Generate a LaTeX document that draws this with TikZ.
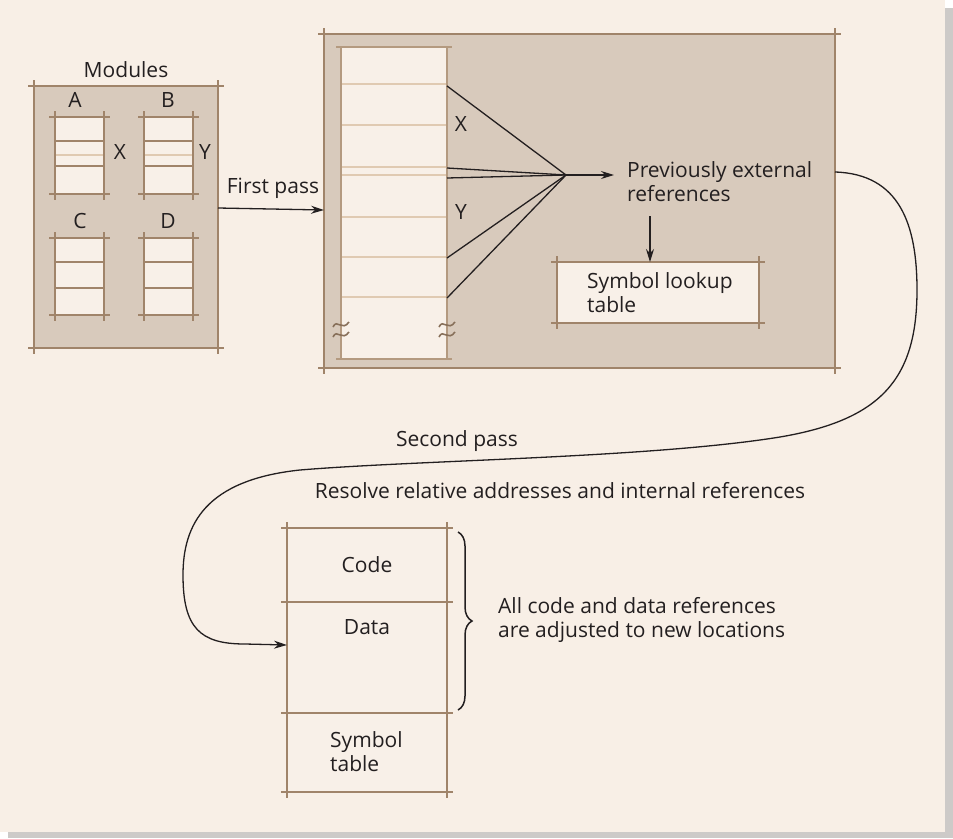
\documentclass[tikz,border=0pt]{standalone}
\usepackage{fontspec}
\setmainfont{Open Sans}
\usetikzlibrary{arrows.meta,decorations.pathreplacing}
\definecolor{paper}{HTML}{F8EFE6}
\definecolor{shadowc}{HTML}{CDCAC8}
\definecolor{panel}{HTML}{D8CABC}
\definecolor{frame}{HTML}{A0846A}
\definecolor{light}{HTML}{F8F0E8}
\definecolor{faint}{HTML}{E0CAB2}
\definecolor{colframe}{HTML}{B49A80}
\definecolor{ink}{HTML}{231F20}
\tikzset{
  txt/.style={font=\fontsize{21}{24}\selectfont, text=ink, inner sep=0pt},
  panelbox/.style={fill=panel, draw=frame, line width=2pt, outer sep=0pt, inner sep=0pt, anchor=north west},
  lightbox/.style={fill=light, draw=frame, line width=1.8pt, outer sep=0pt, inner sep=0pt, anchor=north west},
  colbox/.style={fill=light, draw=colframe, line width=1.2pt, outer sep=0pt, inner sep=0pt, anchor=north west},
  rowline/.style={draw=frame, line width=1.8pt},
  faintline/.style={draw=faint, line width=2pt},
  ext/.style={line width=1.8pt, shorten <=-6pt, shorten >=-6pt},
  conn/.style={draw=ink, line width=1.3pt},
  arr/.style={conn, -{Stealth[length=13pt,width=8pt]}},
  wave/.style={draw=frame!85!black, line width=1.6pt},
}
\newcommand\extbox[2]{%
  \draw[ext,#1] (#2.north west) -- (#2.north east);
  \draw[ext,#1] (#2.south west) -- (#2.south east);
  \draw[ext,#1] (#2.north west) -- (#2.south west);
  \draw[ext,#1] (#2.north east) -- (#2.south east);}
\newcommand\wavy[1]{%
  \draw[wave] ([shift={(-8,-1)}]#1) .. controls ([shift={(-4,-10)}]#1) and ([shift={(1,4)}]#1) .. ([shift={(8,-6)}]#1);
  \draw[wave] ([shift={(-8,9)}]#1) .. controls ([shift={(-4,0)}]#1) and ([shift={(1,14)}]#1) .. ([shift={(8,4)}]#1);}
\begin{document}
\begin{tikzpicture}[x=1pt,y=-1pt]
\useasboundingbox (0,0) rectangle (953,838);
% paper and shadow
\fill[shadowc] (8,8) rectangle (953,838);
\fill[paper] (0,0) rectangle (945,832);

% ---------- Modules ----------
\node[txt] (modlabel) at (126,70) {Modules};
\node[panelbox, minimum width=184pt, minimum height=262pt] (mod) at (34,86) {};
\extbox{frame}{mod}
\foreach \n/\x/\y/\lab/\lx in {A/55/117/A/75, B/144/117/B/168, C/55/238/C/80, D/144/238/D/168}{
  \node[lightbox, minimum width=49pt, minimum height=77pt] (\n) at (\x,\y) {};
  \node[txt] (lab\n) at (\lx,\y-17) {\lab};
}
\draw[faintline] (A.west |- 0,155) -- (A.east |- 0,155);
\draw[faintline] (B.west |- 0,155) -- (B.east |- 0,155);
\foreach \n in {A,B}{
  \draw[rowline] (\n.west |- 0,141) -- (\n.east |- 0,141);
  \draw[rowline] (\n.west |- 0,166) -- (\n.east |- 0,166);
}
\foreach \n in {C,D}{
  \draw[rowline] (\n.west |- 0,262) -- (\n.east |- 0,262);
  \draw[rowline] (\n.west |- 0,288) -- (\n.east |- 0,288);
}
\foreach \n in {A,B,C,D}{\extbox{frame}{\n}}
\node[txt] (xa) at (120,152) {X};
\node[txt] (yb) at (205,152) {Y};

% ---------- First pass ----------
\node[panelbox, minimum width=511pt, minimum height=334pt] (big) at (324,34) {};
\extbox{frame}{big}
\node[txt] (fp) at (273,188) {First pass};
\draw[arr] (mod.east |- 0,208) -- (big.west |- 0,210);

% column
\node[colbox, minimum width=106pt, minimum height=312pt] (col) at (341,47) {};
\foreach \yy in {84,125,167,175,217,257,297}{
  \draw[faintline] (col.west |- 0,\yy) -- (col.east |- 0,\yy);
}
\draw[colframe, line width=1.2pt] (col.north west) rectangle (col.south east);
\draw[colframe, line width=1.2pt, shorten <=-5pt, shorten >=-5pt] (col.north west) -- (col.north east);
\draw[colframe, line width=1.2pt, shorten <=-5pt, shorten >=-5pt] (col.south west) -- (col.south east);
\coordinate (wl) at (col.west |- 0,328);
\coordinate (wr) at (col.east |- 0,328);
\wavy{wl}
\wavy{wr}

\node[txt] (xl) at (461,124) {X};
\node[txt] (yl) at (461,212) {Y};

\coordinate (conv) at (566,175);
\coordinate (pe) at (614,175);
\foreach \yy in {86,168,178,258,298}{
  \draw[conn] (col.east |- 0,\yy) -- (conv);
}
\draw[arr] (conv) -- (pe);
\node[txt, anchor=west, align=left] (prev) at (627,182) {Previously external\\references};
\node[lightbox, minimum width=202pt, minimum height=61pt] (lookup) at (557,262) {};
\extbox{frame}{lookup}
\node[txt, anchor=west, align=left] (lookuptxt) at (587,293) {Symbol lookup\\table};
\draw[arr] (650,216) -- (lookup.north -| 650,0);

% ---------- Second pass ----------
\node[txt] (sp) at (457,441) {Second pass};
\node[txt] (resolve) at (560,491) {Resolve relative addresses and internal references};

\node[lightbox, minimum width=160pt, minimum height=74pt] (code) at (287,528) {};
\node[lightbox, minimum width=160pt, minimum height=111pt] (data) at (287,602) {};
\node[lightbox, minimum width=160pt, minimum height=79pt] (symt) at (287,713) {};
\extbox{frame}{code}
\extbox{frame}{data}
\extbox{frame}{symt}
\node[txt] (codetxt) at (code.center) {Code};
\node[txt] (datatxt) at (367,627) {Data};
\node[txt, anchor=west, align=left] (symtxt) at (330,752) {Symbol\\table};

\coordinate (cs) at (big.east |- 0,172);
\coordinate (ce) at (data.west |- 0,645);
\draw[arr] (cs) .. controls (900,174) and (917,225) .. (917,290)
  .. controls (917,380) and (880,420) .. (780,437)
  .. controls (650,458) and (420,460) .. (300,470)
  .. controls (205,480) and (183,525) .. (183,575)
  .. controls (183,628) and (200,644) .. (245,644)
  -- (ce);

\draw[conn, line width=1.5pt, decorate, decoration={brace, amplitude=14pt}] (458,532) -- (458,710);
\node[txt, anchor=west, align=left] (alltxt) at (498,620) {All code and data references\\are adjusted to new locations};
\end{tikzpicture}
\end{document}
